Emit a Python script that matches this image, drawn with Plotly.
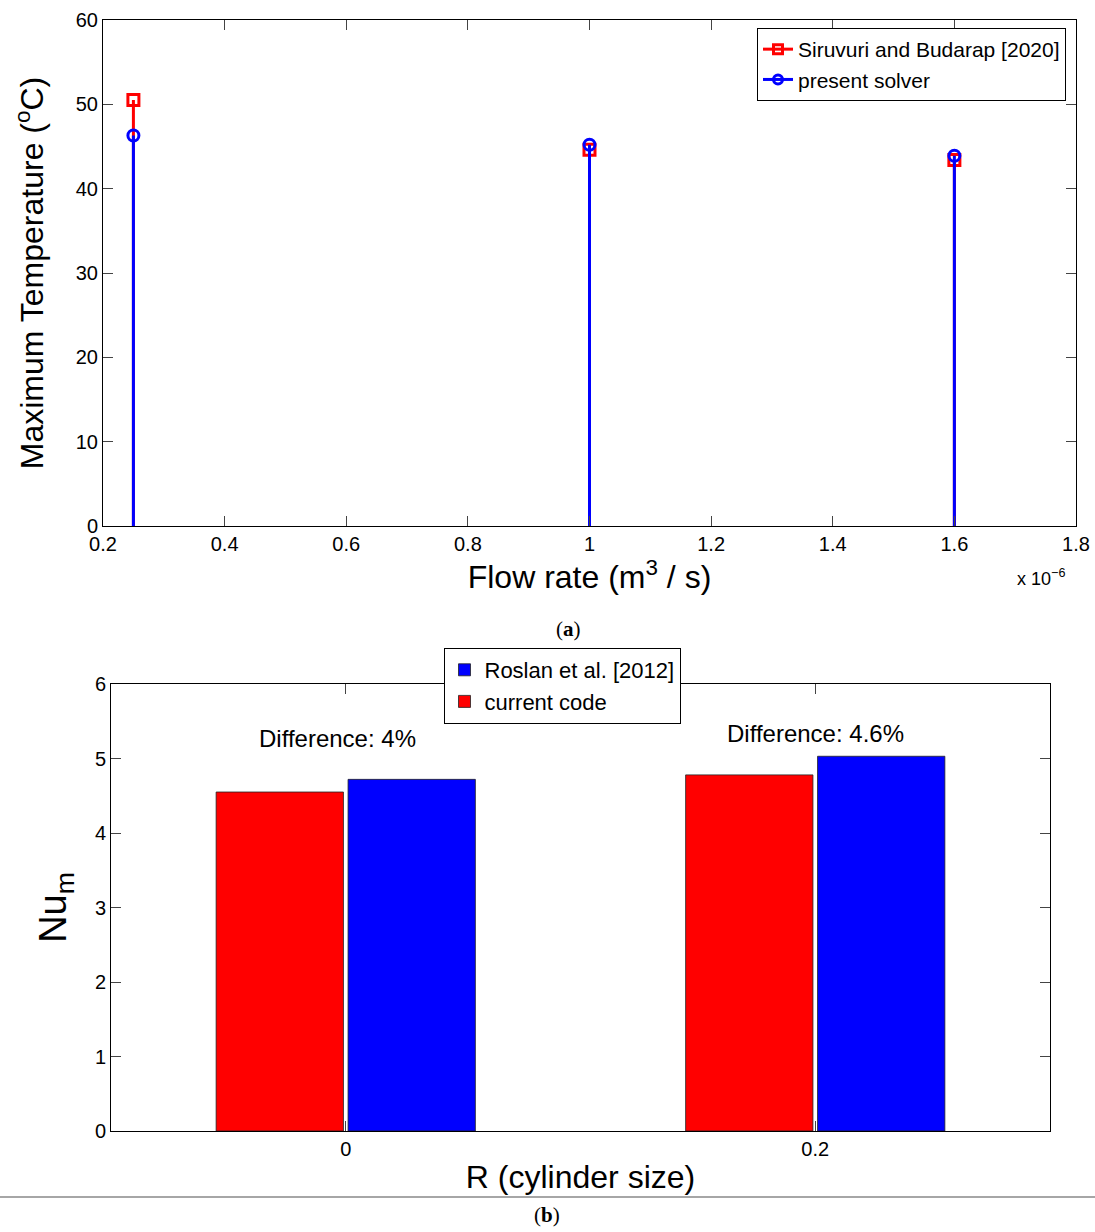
import plotly.graph_objects as go

# Panel (a) data: flow rate in units of 1e-6 m^3/s
flow_rate = [0.25, 1.0, 1.6]
temp_siruvuri = [50.5, 44.6, 43.4]
temp_present = [46.3, 45.2, 43.9]
x_ticks_a = [0.2, 0.4, 0.6, 0.8, 1.0, 1.2, 1.4, 1.6, 1.8]
x_ticklabels_a = ["0.2", "0.4", "0.6", "0.8", "1", "1.2", "1.4", "1.6", "1.8"]
y_ticks_a = [0, 10, 20, 30, 40, 50, 60]

# Panel (b) data
cyl_size = ["0", "0.2"]
nu_current = [4.55, 4.78]
nu_roslan = [4.72, 5.03]
diff_labels = ["Difference: 4%", "Difference: 4.6%"]
diff_y = [5.27, 5.34]

FONT = "Liberation Sans, Arial, sans-serif"

def stems(xs, ys):
    sx, sy = [], []
    for x, y in zip(xs, ys):
        sx += [x, x, None]
        sy += [0, y, None]
    return sx, sy

fig = go.Figure()

series_a = [(temp_siruvuri, "#ff0000", "square-open", "Siruvuri and Budarap [2020]"),
            (temp_present, "#0000ff", "circle-open", "present solver")]
for ys, color, sym, name in series_a:
    sx, sy = stems(flow_rate, ys)
    fig.add_trace(go.Scatter(x=sx, y=sy, mode="lines", line=dict(color=color, width=3),
                             showlegend=False, xaxis="x", yaxis="y", hoverinfo="skip"))
    fig.add_trace(go.Scatter(x=flow_rate, y=ys, mode="markers", name=name, showlegend=False,
                             marker=dict(symbol=sym, size=11, color=color, line=dict(width=3, color=color)),
                             xaxis="x", yaxis="y"))
# legend entries (line + marker)
for ys, color, sym, name in series_a:
    fig.add_trace(go.Scatter(x=[None], y=[None], mode="lines+markers", name=name,
                             line=dict(color=color, width=3),
                             marker=dict(symbol=sym, size=9, color=color, line=dict(width=3, color=color)),
                             xaxis="x", yaxis="y", legend="legend"))

fig.add_trace(go.Bar(x=cyl_size, y=nu_current, name="current code",
                     marker=dict(color="#ff0000", line=dict(color="#222222", width=0.8)),
                     xaxis="x2", yaxis="y2", legend="legend2"))
fig.add_trace(go.Bar(x=cyl_size, y=nu_roslan, name="Roslan et al. [2012]",
                     marker=dict(color="#0000ff", line=dict(color="#222222", width=0.8)),
                     xaxis="x2", yaxis="y2", legend="legend2"))

annotations = []
label_shift = [-0.017, 0.0]
for i, (t, yv) in enumerate(zip(diff_labels, diff_y)):
    annotations.append(dict(x=i + label_shift[i], y=yv, xref="x2", yref="y2", text=t, showarrow=False,
                            xanchor="center", yanchor="middle",
                            font=dict(family=FONT, size=24, color="black")))
annotations += [
    dict(x=1041/1095, y=1-577/1232, xref="paper", yref="paper", text="x 10<sup>−6</sup>",
         xanchor="center", yanchor="middle",
         showarrow=False, font=dict(family=FONT, size=18, color="black")),
    dict(x=568/1095, y=1-629/1232, xref="paper", yref="paper", text="(<b>a</b>)",
         xanchor="center", yanchor="middle",
         showarrow=False, font=dict(family="Liberation Serif, serif", size=21, color="black")),
    dict(x=547/1095, y=1-1215/1232, xref="paper", yref="paper", text="(<b>b</b>)",
         xanchor="center", yanchor="middle",
         showarrow=False, font=dict(family="Liberation Serif, serif", size=21, color="black")),
]

axis_common = dict(showline=True, linecolor="black", linewidth=1, mirror="ticks", ticks="inside",
                   ticklen=10, tickcolor="#444444", showgrid=False, zeroline=False, automargin=False,
                   tickfont=dict(family=FONT, size=20, color="black"))

fig.update_layout(
    width=1095, height=1232, margin=dict(l=0, r=0, t=0, b=0, pad=0, autoexpand=False),
    plot_bgcolor="white", paper_bgcolor="white",
    xaxis=dict(domain=[103/1095, 1076/1095], anchor="y", range=[0.2, 1.8],
               tickvals=x_ticks_a, ticktext=x_ticklabels_a,
               title=dict(text="Flow rate (m<sup>3</sup> / s)", font=dict(family=FONT, size=32, color="black"), standoff=6),
               **axis_common),
    yaxis=dict(domain=[1-526/1232, 1-20/1232], anchor="x", range=[0, 60], tickvals=y_ticks_a,
               title=dict(text="Maximum Temperature (<sup>o</sup>C)", font=dict(family=FONT, size=32, color="black"), standoff=22),
               **axis_common),
    xaxis2=dict(domain=[111/1095, 1050/1095], anchor="y2", range=[-0.5, 1.5], type="category",
                title=dict(text="R (cylinder size)", font=dict(family=FONT, size=32, color="black"), standoff=6),
                **axis_common),
    yaxis2=dict(domain=[1-1131/1232, 1-684/1232], anchor="x2", range=[0, 6], dtick=1,
                title=dict(text="Nu<sub>m</sub>", font=dict(family=FONT, size=38, color="black"), standoff=16),
                **axis_common),
    barmode="group", bargap=0.438, bargroupgap=0.035,
    legend=dict(x=1066/1095, y=1-28/1232, xanchor="right", yanchor="top",
                bgcolor="white", bordercolor="black", borderwidth=1,
                font=dict(family=FONT, size=21, color="black"), tracegroupgap=0, itemwidth=30),
    legend2=dict(x=562/1095, y=1-648/1232, xanchor="center", yanchor="top", traceorder="reversed",
                 bgcolor="white", bordercolor="black", borderwidth=1,
                 font=dict(family=FONT, size=22, color="black"), itemwidth=30),
    annotations=annotations,
    shapes=[dict(type="line", xref="paper", yref="paper", x0=0, x1=1, y0=1-1197/1232, y1=1-1197/1232,
                 line=dict(color="#888888", width=1.5))],
)

fig.write_html("out.html", config={"displayModeBar": False})

# remove default page margins so the figure fills the window exactly
with open("out.html", "r", encoding="utf-8") as f:
    html = f.read()
html = html.replace("<head>", "<head><style>html,body{margin:0;padding:0;overflow:hidden;}</style>", 1)
with open("out.html", "w", encoding="utf-8") as f:
    f.write(html)
